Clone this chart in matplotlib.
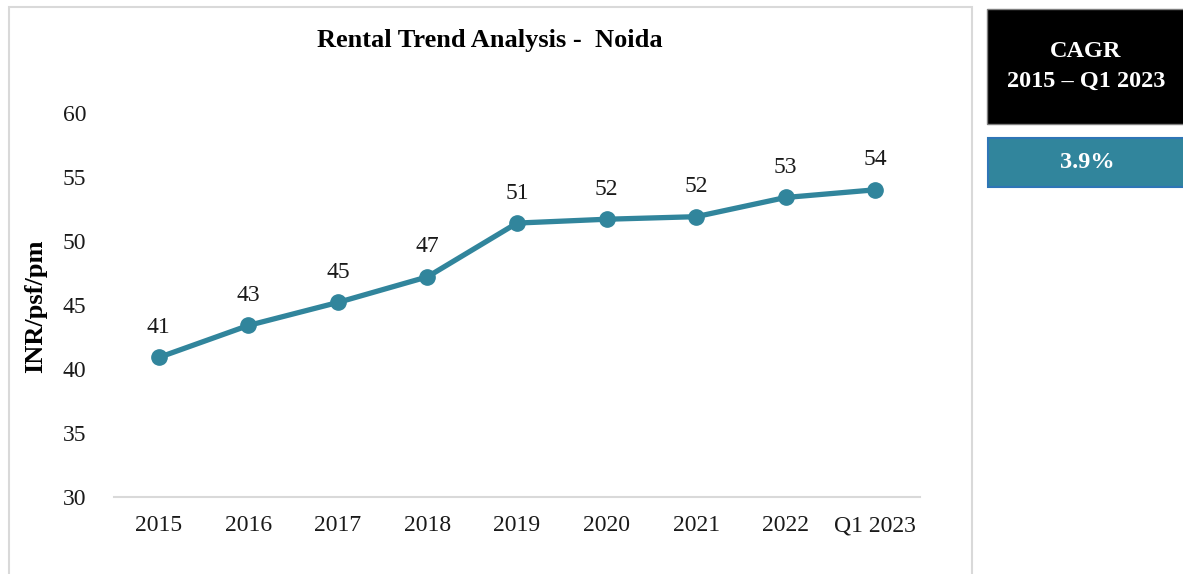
import matplotlib
matplotlib.use('Agg')
import matplotlib.pyplot as plt
from matplotlib.patches import Rectangle

# data
years = ['2015', '2016', '2017', '2018', '2019', '2020', '2021', '2022', 'Q1 2023']
rent = [40.9, 43.4, 45.2, 47.2, 51.4, 51.7, 51.9, 53.4, 54.0]
cagr_label = 'CAGR\n2015 \u2013 Q1 2023'
cagr_value = '3.9%'

W, H = 1183, 574
plt.rcParams['font.family'] = ['Liberation Serif', 'DejaVu Serif']

fig = plt.figure(figsize=(W / 100, H / 100), dpi=100)

def fx(px):
    return px / W

def fy(py):
    return 1 - py / H

# chart frame
fig.patches.append(Rectangle((fx(9), fy(590)), fx(972 - 9), fy(7) - fy(590),
                             transform=fig.transFigure, fill=False,
                             ec='#D9D9D9', lw=1.5))

ax = fig.add_axes([fx(114), fy(497), fx(920 - 114), fy(113) - fy(497)])
x = list(range(len(years)))
line_c = '#31859C'
ax.plot(x, rent, color=line_c, lw=3.8, marker='o', ms=11, solid_capstyle='round')
for xi, v in zip(x, rent):
    ax.annotate('%d' % round(v), (xi, v), xytext=(0, 14), textcoords='offset points',
                ha='center', va='bottom', fontsize=17, color='#1a1a1a')

ax.set_xlim(-0.5, len(years) - 0.5)
ax.set_ylim(30, 60)
ax.set_yticks(range(30, 61, 5))
ax.set_xticks(x)
ax.set_xticklabels(years)
ax.tick_params(axis='both', length=0, labelsize=17, colors='#1a1a1a')
ax.tick_params(axis='x', pad=13)
ax.tick_params(axis='y', pad=20)
for s in ['top', 'right', 'left']:
    ax.spines[s].set_visible(False)
ax.spines['bottom'].set_color('#D9D9D9')
ax.spines['bottom'].set_linewidth(1.5)

fig.text(fx(490), fy(40), 'Rental Trend Analysis -  Noida', ha='center', va='center',
         fontsize=19, fontweight='bold')
fig.text(fx(36), fy(306), 'INR/psf/pm', ha='center', va='center', rotation=90,
         fontsize=19, fontweight='bold')

# CAGR boxes on the right
fig.patches.append(Rectangle((fx(987), fy(124)), fx(W - 987 + 5), fy(9) - fy(124),
                             transform=fig.transFigure, fc='black', ec='#7f7f7f', lw=1))
fig.text(fx(1086), fy(66), cagr_label, ha='center', va='center', color='white',
         fontsize=17.5, fontweight='bold', linespacing=1.55)
fig.patches.append(Rectangle((fx(988), fy(187)), fx(W - 988 + 5), fy(138) - fy(187),
                             transform=fig.transFigure, fc='#31859C', ec='#2E75B6', lw=1.5))
fig.text(fx(1087), fy(163), cagr_value, ha='center', va='center', color='white',
         fontsize=17.5, fontweight='bold')

fig.savefig('out.png', dpi=100)
